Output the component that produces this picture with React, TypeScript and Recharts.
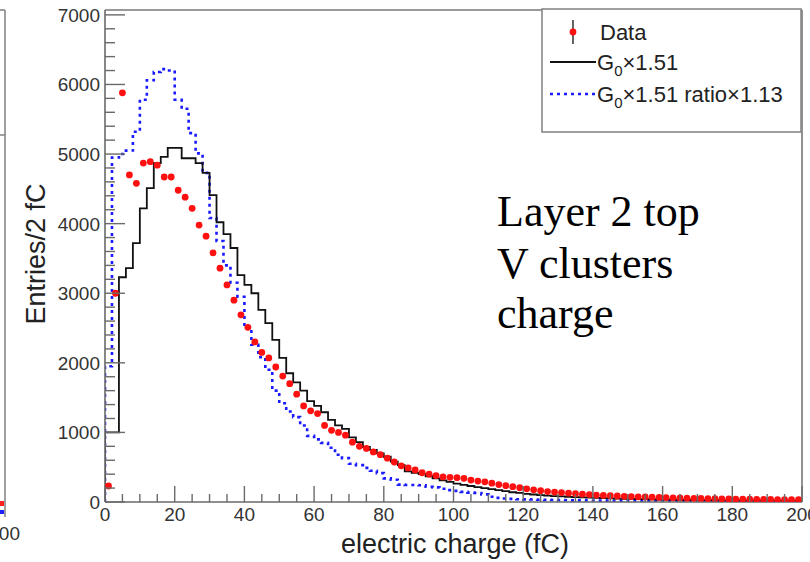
import React from 'react';
import { ComposedChart, Line, Scatter, XAxis, YAxis, ReferenceLine } from 'recharts';

// 2 fC bins, centres at 1, 3, ... 199
const binCenters = Array.from({ length: 100 }, (_, i) => 2 * i + 1);

// measured data (red points)
const dataCounts = [
  230, 3000, 5880, 4700, 4580, 4870, 4890, 4840, 4670, 4670,
  4480, 4380, 4220, 3980, 3820, 3580, 3360, 3120, 2900, 2690,
  2510, 2300, 2150, 2070, 1940, 1810, 1700, 1550, 1380, 1310,
  1270, 1100, 1030, 1000, 960, 860, 800, 770, 720, 680,
  630, 575, 520, 490, 460, 420, 400, 380, 360, 355,
  350, 340, 315, 300, 290, 270, 250, 235, 220, 205,
  190, 175, 162, 150, 142, 135, 127, 120, 112, 106,
  100, 95, 90, 86, 82, 78, 75, 72, 69, 66,
  63, 60, 58, 55, 53, 51, 49, 47, 45, 44,
  42, 41, 40, 38, 37, 36, 35, 34, 33, 32,
];

// simulation G0x1.51 (black histogram)
const simCounts = [
  1000, 1000, 3230, 3360, 3720, 4220, 4510, 4870, 4960, 5090,
  5090, 4940, 4940, 4870, 4730, 4410, 4020, 3850, 3650, 3260,
  3120, 3000, 2760, 2570, 2330, 2070, 1850, 1720, 1600, 1450,
  1380, 1290, 1180, 1100, 1050, 930, 860, 790, 750, 700,
  650, 580, 530, 440, 420, 400, 370, 340, 310, 290,
  265, 245, 230, 215, 200, 185, 170, 155, 140, 130,
  118, 108, 100, 92, 85, 80, 75, 70, 66, 62,
  58, 55, 52, 49, 46, 44, 42, 40, 38, 36,
  34, 33, 31, 30, 28, 27, 26, 25, 24, 23,
  22, 21, 20, 19, 18, 18, 17, 16, 15, 15,
];

// simulation G0x1.51 ratio x1.13 (blue dotted histogram)
const ratioCounts = [
  1950, 4950, 5000, 5050, 5320, 5780, 6060, 6180, 6220, 6200,
  5780, 5650, 5300, 5010, 4730, 4080, 3750, 3400, 3150, 2950,
  2500, 2260, 2080, 1900, 1600, 1420, 1300, 1220, 1100, 950,
  900, 850, 780, 680, 630, 550, 530, 490, 450, 415,
  340, 320, 250, 245, 245, 240, 220, 210, 190, 170,
  160, 145, 135, 130, 110, 75, 60, 50, 45, 40,
  38, 35, 33, 31, 29, 27, 26, 24, 23, 22,
  21, 20, 19, 18, 17, 16, 15, 14, 14, 13,
  12, 12, 11, 11, 10, 10, 9, 9, 9, 8,
  8, 8, 7, 7, 7, 6, 6, 6, 5, 5,
];

const xTicks = Array.from({ length: 41 }, (_, i) => i * 5);
const yTicks = Array.from({ length: 36 }, (_, i) => i * 200);

const PLOT_LEFT = 105;
const PLOT_BOTTOM = 502;
const AXIS_GREY = '#6a6a6a';
const SANS = "'Liberation Sans', Arial, sans-serif";
const SERIF = "'Liberation Serif', 'Times New Roman', serif";

// step histogram: one point per lower bin edge, closed at 200
const toSteps = (counts: number[]) => {
  const pts = [{ x: 0, y: 0 }];
  binCenters.forEach((c, i) => pts.push({ x: c - 1, y: counts[i] }));
  pts.push({ x: 200, y: counts[counts.length - 1] });
  return pts;
};

const simSteps = toSteps(simCounts);
const ratioSteps = toSteps(ratioCounts);
const dataPoints = binCenters.map((c, i) => ({ x: c, y: dataCounts[i] }));

const XTick = (props: any) => {
  const { x, payload } = props;
  const v = payload.value;
  const major = v % 20 === 0;
  return (
    <g>
      <line x1={x} x2={x} y1={PLOT_BOTTOM} y2={PLOT_BOTTOM - (major ? 16 : 8)} stroke={AXIS_GREY} strokeWidth={1.4} />
      {major && (
        <text x={x} y={PLOT_BOTTOM + 19} textAnchor="middle" fontFamily={SANS} fontSize={19} fill="#333">
          {v}
        </text>
      )}
    </g>
  );
};

const YTick = (props: any) => {
  const { y, payload } = props;
  const v = payload.value;
  const major = v % 1000 === 0;
  return (
    <g>
      <line x1={PLOT_LEFT} x2={PLOT_LEFT + (major ? 20 : 10)} y1={y} y2={y} stroke={AXIS_GREY} strokeWidth={1.4} />
      {major && (
        <text x={PLOT_LEFT - 5} y={y + 7} textAnchor="end" fontFamily={SANS} fontSize={19} fill="#333">
          {v}
        </text>
      )}
    </g>
  );
};

const RedDot = (props: any) => {
  const { cx, cy } = props;
  if (cx == null || cy == null) return null;
  return <circle cx={cx} cy={cy} r={3.4} fill="#ff1010" />;
};

export default function App() {
  return (
    <div style={{ position: 'absolute', left: 0, top: 0, width: 810, height: 562, background: '#fff', overflow: 'hidden' }}>
      <ComposedChart width={810} height={562} margin={{ top: 10, right: 8, bottom: 0, left: 0 }}>
        <XAxis
          type="number"
          dataKey="x"
          domain={[0, 200]}
          ticks={xTicks}
          interval={0}
          allowDataOverflow
          height={60}
          tickSize={0}
          tickMargin={0}
          tickLine={false}
          axisLine={{ stroke: AXIS_GREY, strokeWidth: 1.6 }}
          tick={(p: any) => <XTick {...p} />}
        />
        <YAxis
          type="number"
          domain={[0, 7070]}
          ticks={yTicks}
          interval={0}
          allowDataOverflow
          width={105}
          tickSize={0}
          tickMargin={0}
          tickLine={false}
          axisLine={{ stroke: AXIS_GREY, strokeWidth: 1.6 }}
          tick={(p: any) => <YTick {...p} />}
        />
        <ReferenceLine y={7070} stroke="#999" strokeWidth={1.8} />
        <ReferenceLine x={200} stroke="#777" strokeWidth={1.6} />
        <Line
          data={ratioSteps}
          dataKey="y"
          type="stepAfter"
          stroke="#1a1aff"
          strokeWidth={2.6}
          strokeDasharray="3 4"
          dot={false}
          isAnimationActive={false}
        />
        <Line
          data={simSteps}
          dataKey="y"
          type="stepAfter"
          stroke="#111"
          strokeWidth={1.8}
          dot={false}
          isAnimationActive={false}
        />
        <Scatter data={dataPoints} dataKey="y" shape={<RedDot />} isAnimationActive={false} />
      </ComposedChart>

      <svg width={810} height={562} style={{ position: 'absolute', left: 0, top: 0, pointerEvents: 'none' }}>
        {/* edge of the neighbouring panel */}
        <line x1={5} x2={5} y1={10} y2={517} stroke="#888" strokeWidth={1.6} />
        <line x1={0} x2={5} y1={10} y2={10} stroke="#888" strokeWidth={1.6} />
        <line x1={0} x2={5} y1={135} y2={135} stroke="#888" strokeWidth={1.6} />
        <rect x={0} y={501} width={4} height={5} fill="#ff2020" />
        <rect x={0} y={510} width={4} height={4} fill="#2020ff" />
        <text x={20} y={540} textAnchor="end" fontFamily={SANS} fontSize={19} fill="#333">200</text>

        {/* axis titles */}
        <text x={455} y={553} textAnchor="middle" fontFamily={SANS} fontSize={27} fill="#222">
          electric charge (fC)
        </text>
        <text
          x={36}
          y={254}
          textAnchor="middle"
          dominantBaseline="central"
          transform="rotate(-90 36 254)"
          fontFamily={SANS}
          fontSize={27}
          fill="#222"
        >
          Entries/2 fC
        </text>

        {/* annotation */}
        <g fontFamily={SERIF} fontSize={44} fill="#000">
          <text x={497} y={226}>Layer 2 top</text>
          <text x={497} y={278}>V clusters</text>
          <text x={497} y={328}>charge</text>
        </g>

        {/* legend */}
        <rect x={542} y={9} width={259} height={123} fill="#fff" stroke="#888" strokeWidth={1.6} />
        <line x1={573} x2={573} y1={20} y2={44} stroke="#222" strokeWidth={1.4} />
        <circle cx={573} cy={32} r={3.4} fill="#ff1010" />
        <line x1={550} x2={596} y1={62} y2={62} stroke="#111" strokeWidth={1.8} />
        <line x1={550} x2={596} y1={94} y2={94} stroke="#1a1aff" strokeWidth={2.6} strokeDasharray="3 4" />
        <g fontFamily={SANS} fontSize={22} fill="#222">
          <text x={600} y={40}>Data</text>
          <text x={597} y={70}>
            G<tspan fontSize={15} dy={6}>0</tspan>
            <tspan dy={-6}>×1.51</tspan>
          </text>
          <text x={597} y={102}>
            G<tspan fontSize={15} dy={6}>0</tspan>
            <tspan dy={-6}>×1.51 ratio×1.13</tspan>
          </text>
        </g>
      </svg>
    </div>
  );
}
